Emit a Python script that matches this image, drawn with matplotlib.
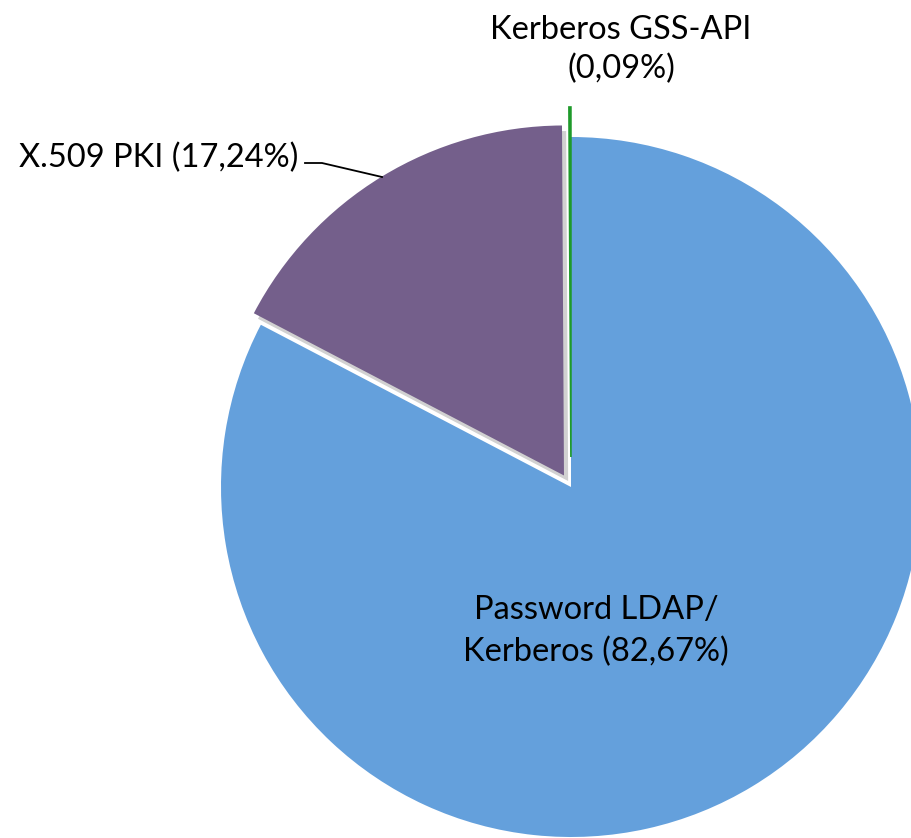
import matplotlib
matplotlib.use("Agg")
import matplotlib.pyplot as plt
import matplotlib.patheffects as pe

categories = ["Password LDAP/\nKerberos", "X.509 PKI", "Kerberos GSS-API"]
values = [82.67, 17.24, 0.09]
value_labels = ["82,67%", "17,24%", "0,09%"]
colors = ["#64A0DC", "#745F8B", "#1E9A2A"]

W, H = 911, 838
fig = plt.figure(figsize=(W / 100, H / 100), dpi=100)
ax = fig.add_axes([0, 0, 1, 1])

def Y(y):
    return H - y

R = 350
wedges, _ = ax.pie(values, colors=colors, startangle=90, counterclock=False,
                   radius=R, center=(571, Y(487)), explode=[0, 13.5, 30],
                   wedgeprops=dict(linewidth=0), frame=True)
ax.set_xlim(0, W)
ax.set_ylim(0, H)
ax.set_aspect("equal")
ax.axis("off")
wedges[1].set_path_effects([pe.SimplePatchShadow(offset=(3, -4), shadow_rgbFace="#999999", alpha=0.45), pe.Normal()])
wedges[2].set_linewidth(1.2)
wedges[2].set_edgecolor(colors[2])

font = dict(family="Lato", fontsize=23.5, color="black")
ax.text(596, Y(631), f"{categories[0]} ({value_labels[0]})", ha="center", va="center",
        linespacing=1.45, **font)
ax.text(298, Y(158), f"{categories[1]} ({value_labels[1]})", ha="right", va="center", **font)
ax.text(621, Y(50), f"{categories[2]}\n({value_labels[2]})", ha="center", va="center",
        linespacing=1.35, **font)
ax.plot([305, 322, 382], [Y(163), Y(163), Y(177)], color="black", lw=1.3)

fig.savefig("out.png", dpi=100)
